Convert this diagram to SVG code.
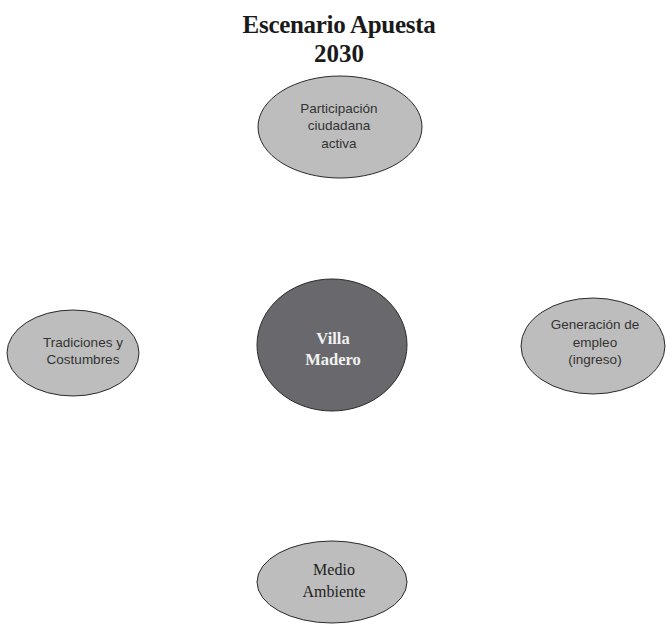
<svg xmlns="http://www.w3.org/2000/svg" width="666" height="624" viewBox="0 0 666 624">
<style>
.light{fill:#bdbdbd;stroke:#2a2a2a;stroke-width:1}
.dark{fill:#69696d;stroke:#2a2a2a;stroke-width:1}
.sans{font-family:"Liberation Sans","DejaVu Sans",sans-serif;font-size:13.5px;fill:#333;text-anchor:middle}
.serif{font-family:"Liberation Serif","DejaVu Serif",serif;text-anchor:middle}
.title{font-family:"Liberation Serif","DejaVu Serif",serif;font-weight:bold;font-size:25px;fill:#1a1a1a;text-anchor:middle}
</style>
<rect width="666" height="624" fill="#fff"/>
<g id="title">
<text class="title" x="339" y="33" letter-spacing="-0.3">Escenario Apuesta</text>
<text class="title" x="339" y="62">2030</text>
</g>
<g id="connectors"></g>
<g id="node-participacion">
<ellipse class="light" cx="340" cy="127" rx="82" ry="51"/>
<text class="sans" x="339" y="113">Participación</text>
<text class="sans" x="339" y="130">ciudadana</text>
<text class="sans" x="339" y="148">activa</text>
</g>
<g id="node-villa">
<ellipse class="dark" cx="332" cy="345" rx="75" ry="66"/>
<text class="serif" x="333" y="344" font-size="16.5" font-weight="bold" fill="#f2f2f2">Villa</text>
<text class="serif" x="333" y="365" font-size="16.5" font-weight="bold" fill="#f2f2f2">Madero</text>
</g>
<g id="node-tradiciones">
<ellipse class="light" cx="73" cy="353" rx="66" ry="43"/>
<text class="sans" x="83" y="347">Tradiciones y</text>
<text class="sans" x="83" y="364">Costumbres</text>
</g>
<g id="node-empleo">
<ellipse class="light" cx="593" cy="346" rx="72" ry="48"/>
<text class="sans" x="595" y="329">Generación de</text>
<text class="sans" x="595" y="347">empleo</text>
<text class="sans" x="595" y="364">(ingreso)</text>
</g>
<g id="node-medio">
<ellipse class="light" cx="332" cy="582" rx="75" ry="41"/>
<text class="serif" x="334" y="575" font-size="16" fill="#222">Medio</text>
<text class="serif" x="334" y="597" font-size="16" fill="#222">Ambiente</text>
</g>
</svg>
